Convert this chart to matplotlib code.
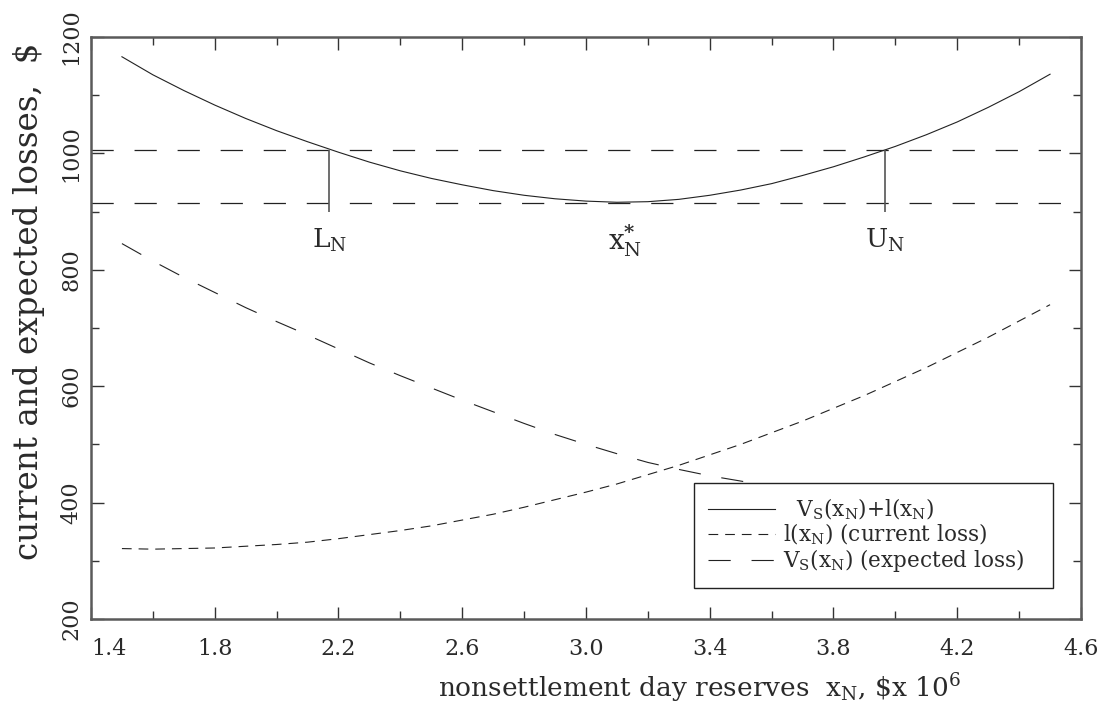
import numpy as np
import matplotlib
matplotlib.use('Agg')
import matplotlib.pyplot as plt
from matplotlib.ticker import MultipleLocator

# values
x_reserves = [1.5, 1.6, 1.7, 1.8, 1.9, 2.0, 2.1, 2.2, 2.3, 2.4, 2.5,
              2.6, 2.7, 2.8, 2.9, 3.0, 3.1, 3.2, 3.3, 3.4, 3.5, 3.6,
              3.7, 3.8, 3.9, 4.0, 4.1, 4.2, 4.3, 4.4, 4.5]
total_loss = [1166, 1135, 1108, 1083, 1060, 1039, 1020, 1002, 985, 970, 957,
              946, 936, 928, 922, 918, 916, 917, 921, 928, 937, 948,
              962, 977, 994, 1012, 1032, 1054, 1079, 1106, 1136]
current_loss = [321, 320, 321, 322, 325, 328, 332, 338, 345, 352, 360,
                370, 380, 392, 405, 418, 432, 448, 464, 482, 500, 520,
                540, 562, 584, 608, 632, 658, 684, 712, 740]
expected_loss = [845, 815, 787, 761, 735, 711, 688, 664, 640, 618, 597,
                 576, 556, 536, 517, 500, 484, 469, 457, 446, 437, 428,
                 422, 415, 410, 404, 400, 396, 395, 394, 396]

band_levels = [1006, 915]          # dashed horizontal lines
bound_x = [2.17, 3.965]            # L_N, U_N
bound_bottom = 900
x_star = 3.125
label_y = 850

x_ticks = [1.4, 1.8, 2.2, 2.6, 3.0, 3.4, 3.8, 4.2, 4.6]
y_ticks = [200, 400, 600, 800, 1000, 1200]

plt.rcParams['font.family'] = 'DejaVu Serif'
plt.rcParams['mathtext.fontset'] = 'dejavuserif'
plt.rcParams['lines.scale_dashes'] = False

TXT = '#2a2a2a'
FRAME = '#5a5a5a'
LINE = '#222222'

fig = plt.figure(figsize=(11.07, 7.11), dpi=100)
ax = fig.add_axes([0.0822, 0.1294, 0.8943, 0.8186])

ax.plot(x_reserves, total_loss, color=LINE, lw=0.8,
        label=r'  V$_\mathrm{S}$(x$_\mathrm{N}$)+l(x$_\mathrm{N}$)')
ax.plot(x_reserves, current_loss, color=LINE, lw=0.8, dashes=(7, 5),
        label=r'l(x$_\mathrm{N}$) (current loss)')
ax.plot(x_reserves, expected_loss, color=LINE, lw=0.8, dashes=(16, 15),
        label=r'V$_\mathrm{S}$(x$_\mathrm{N}$) (expected loss)')

for lev in band_levels:
    ax.axhline(lev, color=LINE, lw=0.9, dashes=(16, 15))
ax.vlines(bound_x, bound_bottom, band_levels[0], color='#555555', lw=1.2)

ax.text(bound_x[0], label_y, r'$\mathrm{L}_\mathrm{N}$', fontsize=19,
        ha='center', va='center', color=TXT)
ax.text(x_star, label_y, r'$\mathrm{x}^{\mathbf{*}}_{\mathrm{N}}$', fontsize=20,
        ha='center', va='center', color=TXT)
ax.text(bound_x[1], label_y, r'$\mathrm{U}_\mathrm{N}$', fontsize=19,
        ha='center', va='center', color=TXT)

ax.set_xlim(1.4, 4.6)
ax.set_ylim(200, 1200)
ax.set_xticks(x_ticks)
ax.set_xticklabels(['%.1f' % t for t in x_ticks])
ax.xaxis.set_minor_locator(MultipleLocator(0.2))
ax.set_yticks(y_ticks)
ax.set_yticklabels(['%d' % t for t in y_ticks])
ax.yaxis.set_minor_locator(MultipleLocator(100))

ax.tick_params(which='both', direction='in', top=True, right=True,
               color='#333333', width=1, labelcolor=TXT, labelsize=16)
ax.tick_params(which='major', length=9)
ax.tick_params(which='minor', length=6)
ax.tick_params(axis='x', pad=14)
ax.tick_params(axis='y', pad=6)
for lab in ax.get_yticklabels():
    lab.set_rotation(90)
    lab.set_va('center')
ax.get_xticklabels()[0].set_ha('left')

for sp in ax.spines.values():
    sp.set_color(FRAME)
    sp.set_linewidth(1.8)

fig.text(0.632, 0.032, r'nonsettlement day reserves  x$_\mathrm{N}$, \$x 10$^6$',
         fontsize=19, ha='center', va='center', color=TXT)
fig.text(0.026, 0.577, r'current and expected losses,  \$', fontsize=23.5,
         rotation=90, ha='center', va='center', color=TXT)

leg = ax.legend(loc='upper left', bbox_to_anchor=(0.609, 0.0, 0.3626, 0.2337),
                mode='expand', fontsize=15.5, frameon=True, fancybox=False,
                handlelength=3.1, handletextpad=0.4, borderpad=0.65,
                labelspacing=0.0, borderaxespad=0)
leg.get_frame().set_edgecolor(LINE)
leg.get_frame().set_linewidth(1.0)
leg.get_frame().set_alpha(1)
for t in leg.get_texts():
    t.set_color(TXT)

fig.savefig('out.png', dpi=100)
